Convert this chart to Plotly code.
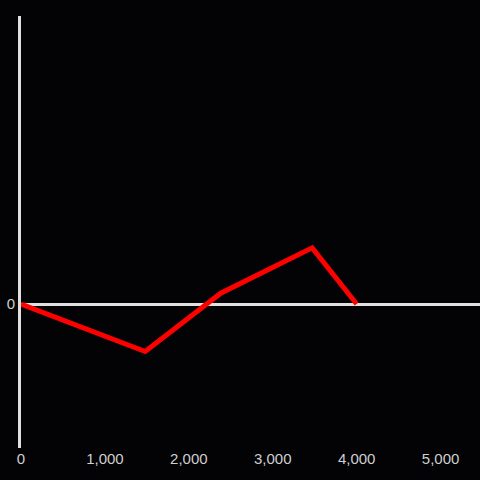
import plotly.graph_objects as go

# data
x_vals = [0, 1480, 2380, 3470, 4000]
y_vals = [0, -0.33, 0.075, 0.39, 0]

x_ticks = [0, 1000, 2000, 3000, 4000, 5000]
x_tick_text = ["0", "1,000", "2,000", "3,000", "4,000", "5,000"]

AXIS = "#e0e0e0"
BG = "#030204"

fig = go.Figure()

fig.add_trace(go.Scatter(
    x=x_vals, y=y_vals,
    mode="lines",
    line=dict(color="#ff0000", width=5),
    showlegend=False,
))

fig.update_layout(
    width=480, height=480,
    paper_bgcolor=BG, plot_bgcolor=BG,
    margin=dict(l=21, r=0, t=16, b=32),
    font=dict(family="Liberation Sans, Arial, sans-serif", size=15, color="#cfcfcf"),
    xaxis=dict(
        range=[0, 5470],
        tickvals=x_ticks, ticktext=x_tick_text,
        showgrid=False, zeroline=False, showline=False,
        ticks="",
    ),
    yaxis=dict(
        range=[-1, 2],
        tickvals=[0], ticktext=["0"],
        showgrid=False,
        zeroline=True, zerolinecolor=AXIS, zerolinewidth=3,
        showline=True, linecolor=AXIS, linewidth=3,
        ticks="",
    ),
)

fig.write_html(
    "out.html",
    config={"displayModeBar": False},
    post_script="document.body.style.margin='0';document.body.style.background='#030204';",
)
